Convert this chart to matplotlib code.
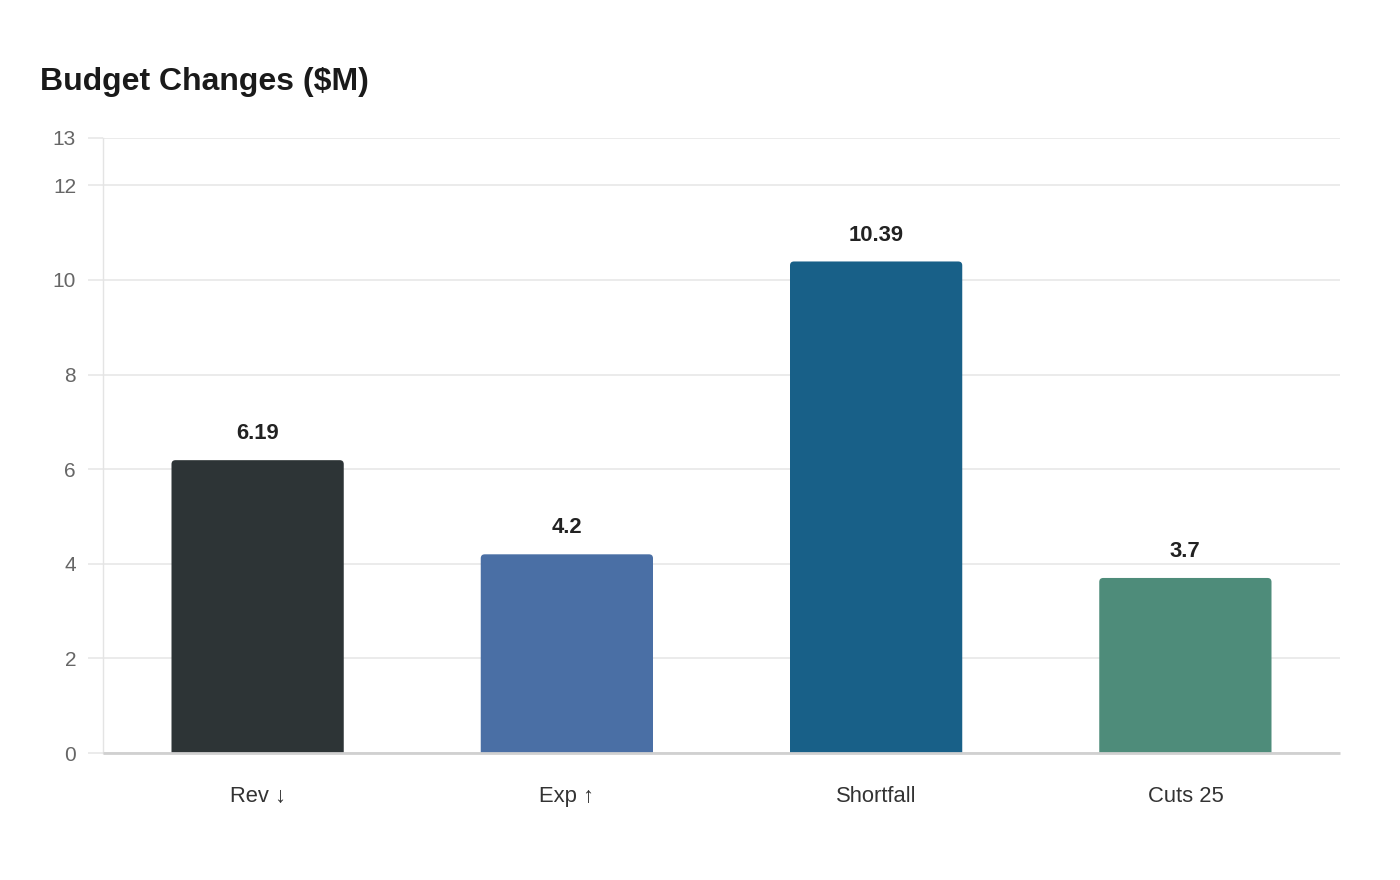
import matplotlib
matplotlib.use("Agg")
import matplotlib.pyplot as plt
from matplotlib.patches import FancyBboxPatch

categories = ["Rev ↓", "Exp ↑", "Shortfall", "Cuts 25"]
values = [6.19, 4.2, 10.39, 3.7]
value_labels = ["6.19", "4.2", "10.39", "3.7"]
colors = ["#2d3436", "#4a6fa5", "#186088", "#4e8c7a"]
yticks = [0, 2, 4, 6, 8, 10, 12, 13]

plt.rcParams['font.family'] = ['Liberation Sans', 'DejaVu Sans']

fig = plt.figure(figsize=(14, 8.8), dpi=100)
ax = fig.add_axes([103/1400, 1-753/880, (1340-103)/1400, (753-138)/880])

ax.set_xlim(-0.5, len(categories)-0.5)
ax.set_ylim(0, 13)

bar_w = 0.557
xpx = (1340-103)/len(categories)
ypx = (753-138)/13
r = 4/xpx
aspect = xpx/ypx
for i, (v, c) in enumerate(zip(values, colors)):
    p = FancyBboxPatch((i-bar_w/2, -0.5), bar_w, v+0.5,
                       boxstyle=f"round,pad=0,rounding_size={r}",
                       mutation_aspect=aspect, fc=c, ec="none", zorder=3)
    ax.add_patch(p)
    ax.annotate(value_labels[i], (i, v), xytext=(0, 19), textcoords="offset points",
                ha="center", va="center", fontsize=15.8, fontweight="bold", color="#222222")

ax.set_xticks(range(len(categories)))
ax.set_xticklabels(categories, fontsize=15.8, color="#333333")
ax.set_yticks(yticks)
ax.set_yticklabels([str(t) for t in yticks], fontsize=15, color="#666666")
ax.tick_params(axis="x", length=0, pad=24)
ax.tick_params(axis="y", length=10.8, color="#e8e8e8", width=1.2, pad=8.6)
ax.grid(axis="y", color="#e8e8e8", linewidth=1.2, zorder=0)
ax.set_axisbelow(True)
for s in ["top", "right"]:
    ax.spines[s].set_visible(False)
ax.spines["left"].set_color("#e4e4e4")
ax.spines["left"].set_linewidth(1)
ax.spines["bottom"].set_color("#d0d0d0")
ax.spines["bottom"].set_linewidth(2)
ax.spines["bottom"].set_capstyle("butt")
ax.spines["bottom"].set_zorder(4)

fig.text(40/1400, 1-82/880, "Budget Changes ($M)", fontsize=23, fontweight="bold",
         color="#1a1a1a", ha="left", va="center")

fig.savefig("out.png", dpi=100, facecolor="white")
